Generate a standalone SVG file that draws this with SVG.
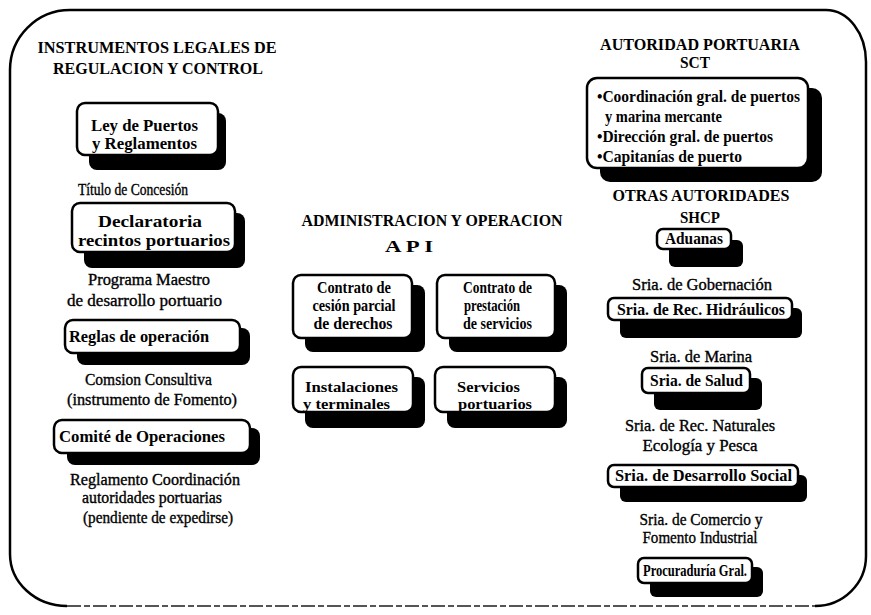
<svg xmlns="http://www.w3.org/2000/svg" width="871" height="615" viewBox="0 0 871 615">
<style>
text{font-family:"Liberation Serif","Times New Roman",serif;fill:#000}
.h{font-size:17px;font-weight:bold}
.h2{font-size:16px;font-weight:bold}
.b{font-size:16px;font-weight:bold}
.s{font-size:15px;font-weight:bold}
.p{font-size:16px;stroke:#000;stroke-width:0.35}
.c{text-anchor:middle}
.box{fill:#fff;stroke:#000;stroke-width:2.5}
.sh{fill:#000}
.frame{fill:none;stroke:#000;stroke-width:2.5}
.bot{fill:none;stroke:#555;stroke-width:2;stroke-dasharray:14 3 6 3}
</style>
<rect width="871" height="615" fill="#fff"/>
<g id="frame">
<path class="frame" d="M67 606 A57 52 0 0 1 10 554 L10 70 A60 60 0 0 1 70 10 L826 10 A40 52 0 0 1 866 62 L866 556 A51 50 0 0 1 815 606"/>
<path class="bot" d="M67 606 L815 606"/>
</g>
<g id="connectors"/>

<g id="title-left">
<text class="h c" x="157" y="53" textLength="239" lengthAdjust="spacingAndGlyphs">INSTRUMENTOS LEGALES DE</text>
<text class="h c" x="158" y="74" textLength="210" lengthAdjust="spacingAndGlyphs">REGULACION Y CONTROL</text>
</g>
<g id="ley">
<rect class="sh" x="89" y="113" width="137" height="57" rx="8"/>
<rect class="box" x="77" y="103" width="141" height="52" rx="8"/>
<text class="b" x="91" y="131" textLength="107" lengthAdjust="spacingAndGlyphs">Ley de Puertos</text>
<text class="b" x="92" y="149" textLength="105" lengthAdjust="spacingAndGlyphs">y Reglamentos</text>
</g>
<g id="titulo"><text class="p c" x="133" y="195" textLength="110" lengthAdjust="spacingAndGlyphs">Título de Concesión</text></g>
<g id="declaratoria">
<rect class="sh" x="84" y="213" width="161" height="55" rx="8"/>
<rect class="box" x="72" y="203" width="163" height="49" rx="8"/>
<text class="b c" x="150" y="227" textLength="104" lengthAdjust="spacingAndGlyphs">Declaratoria</text>
<text class="b c" x="154" y="246" textLength="152" lengthAdjust="spacingAndGlyphs">recintos portuarios</text>
</g>
<g id="programa">
<text class="p c" x="149" y="285" textLength="122" lengthAdjust="spacingAndGlyphs">Programa Maestro</text>
<text class="p c" x="144.5" y="306" textLength="155" lengthAdjust="spacingAndGlyphs">de desarrollo portuario</text>
</g>
<g id="reglas">
<rect class="sh" x="77" y="328" width="173" height="37" rx="8"/>
<rect class="box" x="65" y="320" width="175" height="33" rx="8"/>
<text class="b" x="69" y="342" textLength="140" lengthAdjust="spacingAndGlyphs">Reglas de operación</text>
</g>
<g id="comision">
<text class="p c" x="148.5" y="385" textLength="127" lengthAdjust="spacingAndGlyphs">Comsion Consultiva</text>
<text class="p c" x="152" y="405" textLength="170" lengthAdjust="spacingAndGlyphs">(instrumento de Fomento)</text>
</g>
<g id="comite">
<rect class="sh" x="67" y="428" width="193" height="37" rx="8"/>
<rect class="box" x="54" y="420" width="196" height="33" rx="8"/>
<text class="b" x="59" y="442" textLength="166" lengthAdjust="spacingAndGlyphs">Comité de Operaciones</text>
</g>
<g id="reglamento">
<text class="p c" x="155" y="485" textLength="170" lengthAdjust="spacingAndGlyphs">Reglamento Coordinación</text>
<text class="p c" x="152" y="503" textLength="140" lengthAdjust="spacingAndGlyphs">autoridades portuarias</text>
<text class="p c" x="158" y="523" textLength="150" lengthAdjust="spacingAndGlyphs">(pendiente de expedirse)</text>
</g>

<g id="title-mid">
<text class="h c" x="432" y="226" textLength="261" lengthAdjust="spacingAndGlyphs">ADMINISTRACION Y OPERACION</text>
<text class="h c" x="409" y="252" textLength="48" lengthAdjust="spacingAndGlyphs">A P I</text>
</g>
<g id="cesion">
<rect class="sh" x="305" y="285" width="120" height="67" rx="8"/>
<rect class="box" x="293" y="275" width="119" height="63" rx="8"/>
<text class="b c" x="354" y="293" textLength="74" lengthAdjust="spacingAndGlyphs">Contrato de</text>
<text class="b c" x="354" y="311" textLength="83" lengthAdjust="spacingAndGlyphs">cesión parcial</text>
<text class="b c" x="353" y="329" textLength="79" lengthAdjust="spacingAndGlyphs">de derechos</text>
</g>
<g id="prestacion">
<rect class="sh" x="449" y="285" width="118" height="67" rx="8"/>
<rect class="box" x="437" y="275" width="118" height="63" rx="8"/>
<text class="b" x="463" y="293" textLength="69" lengthAdjust="spacingAndGlyphs">Contrato de</text>
<text class="b" x="464" y="311" textLength="56" lengthAdjust="spacingAndGlyphs">prestación</text>
<text class="b" x="463" y="329" textLength="69" lengthAdjust="spacingAndGlyphs">de servicios</text>
</g>
<g id="instalaciones">
<rect class="sh" x="305" y="377" width="120" height="51" rx="8"/>
<rect class="box" x="293" y="367" width="120" height="45" rx="8"/>
<text class="s" x="305" y="392" textLength="93" lengthAdjust="spacingAndGlyphs">Instalaciones</text>
<text class="s" x="303" y="409" textLength="87" lengthAdjust="spacingAndGlyphs">y terminales</text>
</g>
<g id="servicios">
<rect class="sh" x="447" y="377" width="120" height="51" rx="8"/>
<rect class="box" x="435" y="367" width="120" height="45" rx="8"/>
<text class="s" x="457" y="392" textLength="63" lengthAdjust="spacingAndGlyphs">Servicios</text>
<text class="s" x="458" y="409" textLength="74" lengthAdjust="spacingAndGlyphs">portuarios</text>
</g>

<g id="title-right">
<text class="h2 c" x="700" y="50" textLength="200" lengthAdjust="spacingAndGlyphs">AUTORIDAD PORTUARIA</text>
<text class="h2 c" x="695" y="68" textLength="30" lengthAdjust="spacingAndGlyphs">SCT</text>
</g>
<g id="sct">
<rect class="sh" x="600" y="88" width="222" height="94" rx="10"/>
<rect class="box" x="587" y="78" width="221" height="90" rx="10"/>
<text class="b" x="597" y="102" textLength="203" lengthAdjust="spacingAndGlyphs">•Coordinación gral. de puertos</text>
<text class="b" x="605" y="122" textLength="117" lengthAdjust="spacingAndGlyphs">y marina mercante</text>
<text class="b" x="597" y="142" textLength="176" lengthAdjust="spacingAndGlyphs">•Dirección gral. de puertos</text>
<text class="b" x="597" y="162" textLength="145" lengthAdjust="spacingAndGlyphs">•Capitanías de puerto</text>
</g>
<g id="otras">
<text class="h c" x="701" y="201" textLength="177" lengthAdjust="spacingAndGlyphs">OTRAS AUTORIDADES</text>
<text class="h c" x="700" y="223" textLength="40" lengthAdjust="spacingAndGlyphs">SHCP</text>
</g>
<g id="aduanas">
<rect class="sh" x="669" y="240" width="74" height="27" rx="6"/>
<rect class="box" x="657" y="229" width="74" height="20" rx="6"/>
<text class="b c" x="694" y="244" textLength="58" lengthAdjust="spacingAndGlyphs">Aduanas</text>
</g>
<g id="gobernacion"><text class="p c" x="702" y="290" textLength="140" lengthAdjust="spacingAndGlyphs">Sria. de Gobernación</text></g>
<g id="hidraulicos">
<rect class="sh" x="620" y="308" width="182" height="30" rx="6"/>
<rect class="box" x="608" y="298" width="184" height="22" rx="6"/>
<text class="b" x="617" y="315" textLength="168" lengthAdjust="spacingAndGlyphs">Sria. de Rec. Hidráulicos</text>
</g>
<g id="marina"><text class="p c" x="701" y="362" textLength="102" lengthAdjust="spacingAndGlyphs">Sria. de Marina</text></g>
<g id="salud">
<rect class="sh" x="654" y="378" width="108" height="32" rx="6"/>
<rect class="box" x="642" y="368" width="108" height="25" rx="6"/>
<text class="b" x="650" y="386" textLength="93" lengthAdjust="spacingAndGlyphs">Sria. de Salud</text>
</g>
<g id="naturales">
<text class="p c" x="700" y="431" textLength="150" lengthAdjust="spacingAndGlyphs">Sria. de Rec. Naturales</text>
<text class="p c" x="700" y="451" textLength="115" lengthAdjust="spacingAndGlyphs">Ecología y Pesca</text>
</g>
<g id="desarrollo">
<rect class="sh" x="620" y="475" width="187" height="27" rx="6"/>
<rect class="box" x="608" y="465" width="190" height="22" rx="6"/>
<text class="b" x="615" y="481" textLength="177" lengthAdjust="spacingAndGlyphs">Sria. de Desarrollo Social</text>
</g>
<g id="comercio">
<text class="p c" x="701" y="525" textLength="123" lengthAdjust="spacingAndGlyphs">Sria. de Comercio y</text>
<text class="p c" x="700" y="543" textLength="115" lengthAdjust="spacingAndGlyphs">Fomento Industrial</text>
</g>
<g id="procuraduria">
<rect class="sh" x="650" y="567" width="113" height="30" rx="6"/>
<rect class="box" x="638" y="558" width="114" height="25" rx="6"/>
<text class="b" x="643" y="576" textLength="104" lengthAdjust="spacingAndGlyphs">Procuraduría Gral.</text>
</g>
</svg>
